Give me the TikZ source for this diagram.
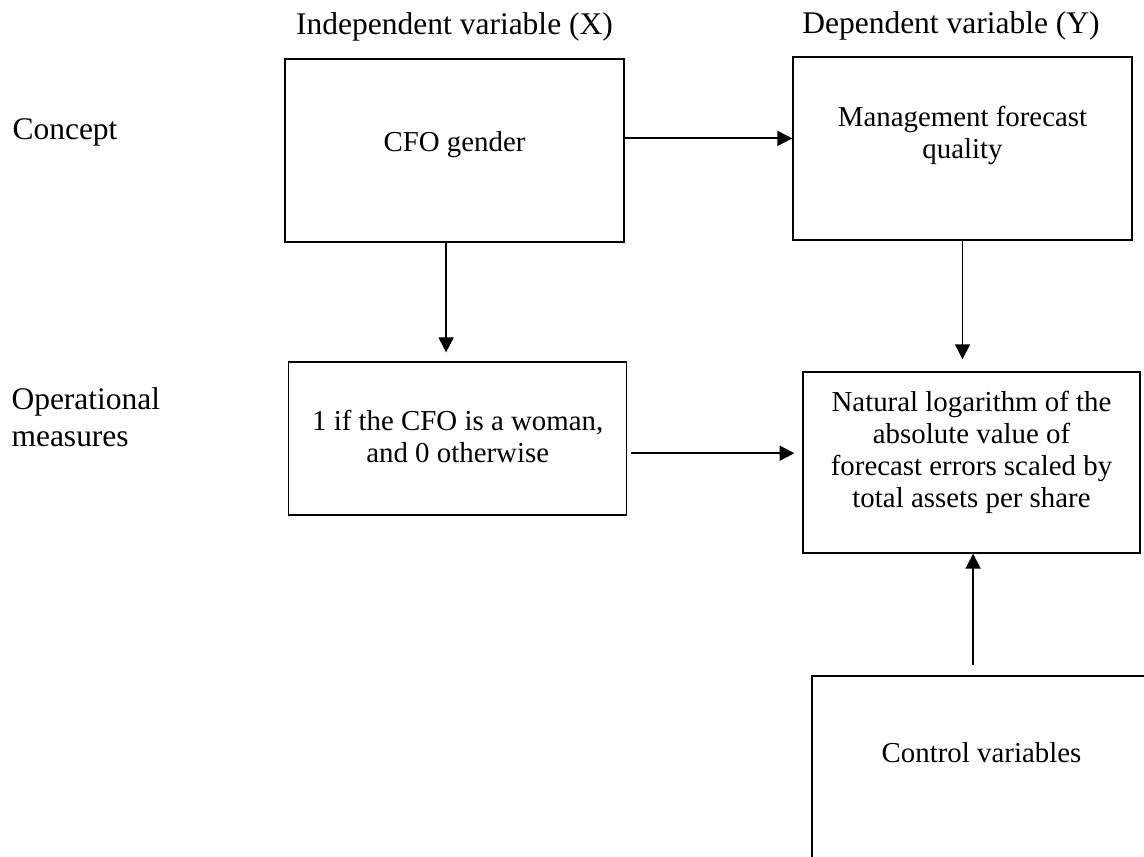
\documentclass[tikz,border=0pt]{standalone}
\usepackage{fontspec}
\setmainfont{Liberation Serif}
\usetikzlibrary{positioning,arrows.meta}

\begin{document}
\begin{tikzpicture}[x=0.381pt, y=-0.381pt,
    box/.style={draw, line width=0.5pt, inner sep=0pt, minimum width=129.2pt},
    boxtext/.style={inner sep=0pt, align=center, font=\fontsize{11}{12.2}\selectfont},
    lbl/.style={inner sep=0pt, align=left, font=\fontsize{12}{13.8}\selectfont},
    arr/.style={line width=0.7pt, -{Triangle[length=5.7pt, width=5.7pt]}}]
    \useasboundingbox (0,0) rectangle (1144,857);
    \clip (0,0) rectangle (1144,857);

    \node[box, minimum height=69.7pt] (gender) at (454.5,150.5) {};
    \node[box, minimum height=69.7pt] (quality) at (962.5,148.5) {};
    \node[box, minimum height=58.3pt, minimum width=128.8pt] (dummy) at (457.7,438.5) {};
    \node[box, minimum height=69pt, minimum width=128.4pt] (logerr) at (971.5,462.5) {};
    \node[box, minimum height=77.7pt] (controls) at (981.5,778) {};

    \node[boxtext, below=27.8pt of gender.north] (gendertxt) {CFO gender};
    \node[boxtext, below=18.7pt of quality.north] (qualitytxt) {Management forecast\\quality};
    \node[boxtext, below=18.5pt of dummy.north] (dummytxt) {1 if the CFO is a woman,\\and 0 otherwise};
    \node[boxtext, below=7.2pt of logerr.north] (logerrtxt) {Natural logarithm of the\\absolute value of\\forecast errors scaled by\\total assets per share};
    \node[boxtext, below=25.5pt of controls.north] (controlstxt) {Control variables};

    \node[lbl, above=6.5pt of gender.north] (xhead) {Independent variable (X)};
    \node[lbl, above=5.8pt of quality.north, xshift=-4.4pt] (yhead) {Dependent variable (Y)};
    \node[lbl, anchor=base west] (concept) at (12,140) {Concept};
    \node[lbl, anchor=north west] (oper) at (11,387.5) {Operational\\measures};

    \coordinate (ab) at ([yshift=-30.5pt]gender.north east);
    \draw[arr] (ab) -- (ab -| quality.west);
    \coordinate (ac) at ([xshift=-3.2pt]gender.south);
    \draw[arr, shorten >=3.4pt] (ac) -- (ac |- dummy.north);
    \draw[arr, shorten >=4.6pt] (quality.south) -- (quality.south |- logerr.north);
    \coordinate (cd) at ([yshift=-35pt]dummy.north east);
    \draw[arr, shorten <=1.2pt, shorten >=3pt] (cd) -- (cd -| logerr.west);
    \coordinate (ed) at ([xshift=-3.2pt]controls.north);
    \draw[arr, shorten <=3.8pt] (ed) -- (ed |- logerr.south);
\end{tikzpicture}
\end{document}
